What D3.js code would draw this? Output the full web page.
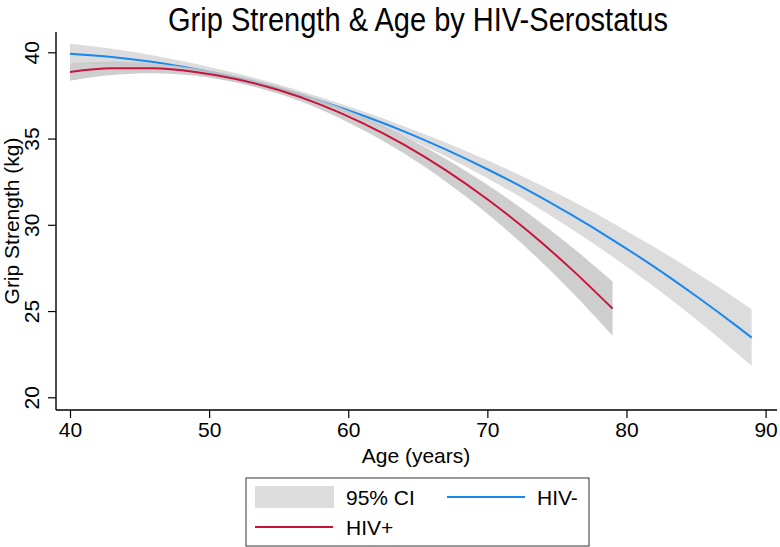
<!DOCTYPE html>
<html>
<head>
<meta charset="utf-8">
<script src="https://cdn.jsdelivr.net/npm/d3@7"></script>
<style>
  html, body { margin: 0; padding: 0; background: #fff; }
  svg { display: block; font-family: "Liberation Sans", Arial, Helvetica, sans-serif; }
</style>
</head>
<body>
<svg id="chart" width="780" height="547"></svg>
<script>
// ---- data ----
const title = "Grip Strength & Age by HIV-Serostatus";
const xLabel = "Age (years)";
const yLabel = "Grip Strength (kg)";
const xTicks = [40, 50, 60, 70, 80, 90];
const yTicks = [20, 25, 30, 35, 40];

const agesNeg = [40, 43, 46, 49, 52, 55, 58, 61, 64, 67, 70, 73, 76, 79, 82, 85, 88, 89];
const fitNeg  = [39.92, 39.73, 39.44, 39.03, 38.52, 37.91, 37.18, 36.35, 35.42, 34.37, 33.22, 31.97, 30.60, 29.13, 27.56, 25.87, 24.08, 23.46];
const loNeg   = [39.35, 39.26, 39.06, 38.72, 38.26, 37.68, 36.96, 36.11, 35.12, 33.97, 32.70, 31.31, 29.78, 28.15, 26.41, 24.52, 22.51, 21.81];
const hiNeg   = [40.49, 40.20, 39.82, 39.34, 38.78, 38.14, 37.40, 36.59, 35.72, 34.77, 33.74, 32.63, 31.42, 30.11, 28.71, 27.22, 25.65, 25.11];

const agesPos = [40, 43, 46, 49, 52, 55, 58, 61, 64, 67, 70, 73, 76, 79];
const fitPos  = [38.86, 39.07, 39.07, 38.86, 38.44, 37.81, 36.97, 35.91, 34.65, 33.17, 31.48, 29.58, 27.46, 25.14];
const loPos   = [38.35, 38.69, 38.79, 38.64, 38.24, 37.59, 36.69, 35.53, 34.15, 32.51, 30.64, 28.53, 26.16, 23.57];
const hiPos   = [39.37, 39.45, 39.35, 39.08, 38.64, 38.03, 37.25, 36.29, 35.15, 33.83, 32.32, 30.63, 28.76, 26.71];

const legendItems = ["95% CI", "HIV-", "HIV+"];

// ---- drawing ----
const svg = d3.select("#chart");
const FONT = 21;
const colNeg = "#1a87f0";
const colPos = "#c8143c";

const x = d3.scaleLinear().domain([40, 90]).range([70, 765.6]);
const y = d3.scaleLinear().domain([20, 40]).range([397.3, 52.3]);

const axisLeftX = 56, axisBottomY = 410;

function rows(ages, fit, lo, hi) {
  return ages.map((a, i) => ({ a, f: fit[i], lo: lo[i], hi: hi[i] }));
}
const negRows = rows(agesNeg, fitNeg, loNeg, hiNeg);
const posRows = rows(agesPos, fitPos, loPos, hiPos);

const area = d3.area().curve(d3.curveMonotoneX)
  .x(d => x(d.a)).y0(d => y(d.lo)).y1(d => y(d.hi));
const line = d3.line().curve(d3.curveMonotoneX)
  .x(d => x(d.a)).y(d => y(d.f));

// HIV- band and line
svg.append("path").datum(negRows).attr("d", area).attr("fill", "#dcdcdc");
svg.append("path").datum(negRows).attr("d", line)
  .attr("fill", "none").attr("stroke", colNeg).attr("stroke-width", 2);
// HIV+ band and line
svg.append("path").datum(posRows).attr("d", area).attr("fill", "#c6c6c6").attr("fill-opacity", 0.85);
svg.append("path").datum(posRows).attr("d", line)
  .attr("fill", "none").attr("stroke", colPos).attr("stroke-width", 2);

// axes
const xAxis = d3.axisBottom(x).tickValues(xTicks).tickSize(8).tickPadding(4).tickFormat(d3.format("d"));
const gx = svg.append("g").attr("transform", `translate(0,${axisBottomY})`).call(xAxis);
gx.select(".domain").remove();
gx.selectAll("text").attr("font-size", FONT).attr("font-family", "Liberation Sans, Arial, sans-serif").attr("fill", "#000");
gx.selectAll("line").attr("stroke", "#000").attr("stroke-width", 1.2);
svg.append("line").attr("x1", axisLeftX).attr("x2", 777).attr("y1", axisBottomY).attr("y2", axisBottomY)
  .attr("stroke", "#000").attr("stroke-width", 1.4);

const yAxis = d3.axisLeft(y).tickValues(yTicks).tickSize(8).tickFormat(d3.format("d"));
const gy = svg.append("g").attr("transform", `translate(${axisLeftX},0)`).call(yAxis);
gy.select(".domain").remove();
gy.selectAll("line").attr("stroke", "#000").attr("stroke-width", 1.2);
gy.selectAll("text")
  .attr("font-size", FONT).attr("font-family", "Liberation Sans, Arial, sans-serif").attr("fill", "#000")
  .attr("x", null).attr("dy", null)
  .attr("text-anchor", "middle")
  .attr("transform", "translate(-17,0) rotate(-90)");
svg.append("line").attr("x1", axisLeftX).attr("x2", axisLeftX).attr("y1", 32).attr("y2", axisBottomY)
  .attr("stroke", "#000").attr("stroke-width", 1.4);

// titles
svg.append("text").attr("x", 418).attr("y", 31).attr("text-anchor", "middle")
  .attr("font-size", 33).attr("textLength", 500).attr("lengthAdjust", "spacingAndGlyphs")
  .text(title);
svg.append("text").attr("x", 416).attr("y", 463).attr("text-anchor", "middle")
  .attr("font-size", FONT).text(xLabel);
svg.append("text").attr("transform", `translate(19,${(32 + 410) / 2}) rotate(-90)`)
  .attr("text-anchor", "middle").attr("font-size", FONT).text(yLabel);

// legend
const lg = svg.append("g");
lg.append("rect").attr("x", 246).attr("y", 478).attr("width", 343).attr("height", 68)
  .attr("fill", "#fff").attr("stroke", "#333").attr("stroke-width", 1);
lg.append("rect").attr("x", 255).attr("y", 486).attr("width", 79).attr("height", 22).attr("fill", "#dcdcdc");
lg.append("text").attr("x", 346).attr("y", 505).attr("font-size", FONT).text(legendItems[0]);
lg.append("line").attr("x1", 447).attr("x2", 525).attr("y1", 497).attr("y2", 497)
  .attr("stroke", colNeg).attr("stroke-width", 2);
lg.append("text").attr("x", 537).attr("y", 505).attr("font-size", FONT).text(legendItems[1]);
lg.append("line").attr("x1", 255).attr("x2", 333).attr("y1", 527).attr("y2", 527)
  .attr("stroke", colPos).attr("stroke-width", 2);
lg.append("text").attr("x", 346).attr("y", 535).attr("font-size", FONT).text(legendItems[2]);
</script>
</body>
</html>
